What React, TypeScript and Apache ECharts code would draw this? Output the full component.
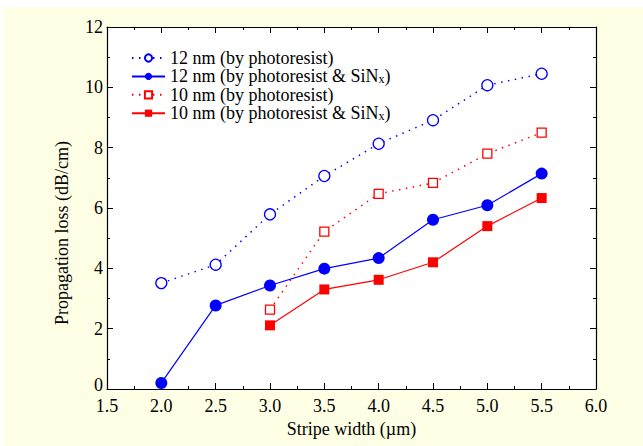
import React, { useEffect, useRef } from "react";
import * as echarts from "echarts";

const widths12 = [2.0, 2.5, 3.0, 3.5, 4.0, 4.5, 5.0, 5.5];
const loss12Photo = [3.51, 4.12, 5.79, 7.06, 8.13, 8.91, 10.07, 10.45];
const loss12PhotoSiN = [0.2, 2.77, 3.43, 3.99, 4.34, 5.61, 6.09, 7.14];
const widths10 = [3.0, 3.5, 4.0, 4.5, 5.0, 5.5];
const loss10Photo = [2.63, 5.22, 6.47, 6.83, 7.8, 8.5];
const loss10PhotoSiN = [2.11, 3.3, 3.62, 4.2, 5.4, 6.33];

const seriesNames = [
  "12 nm (by photoresist)",
  "12 nm (by photoresist & SiNx)",
  "10 nm (by photoresist)",
  "10 nm (by photoresist & SiNx)",
];

const xLabel = "Stripe width (\u00b5m)";
const yLabel = "Propagation loss (dB/cm)";

const FONT = "Liberation Serif";

function pairs(xs: number[], ys: number[]) {
  return xs.map((x, i) => [x, ys[i]]);
}

export default function App() {
  const ref = useRef<HTMLDivElement>(null);
  useEffect(() => {
    if (!ref.current) return;
    const chart = echarts.init(ref.current, undefined, { renderer: "svg" });
    const blue = "#0000FF";
    const red = "#FF0000";
    const dotted = [1.5, 5.5];
    const axisCommon = {
      type: "value" as const,
      axisLine: { show: true, onZero: false, lineStyle: { color: "#000", width: 1.2 } },
      axisTick: { show: true, inside: true, length: 6, lineStyle: { color: "#000", width: 1 } },
      minorTick: { show: true, splitNumber: 2, length: 3, lineStyle: { color: "#000", width: 1 } },
      splitLine: { show: false },
      minorSplitLine: { show: false },
    };
    chart.setOption({
      animation: false,
      backgroundColor: "transparent",
      grid: {
        left: 107,
        right: 47,
        top: 27,
        bottom: 57,
        show: true,
        backgroundColor: "#FFFFFF",
        borderWidth: 0,
      },
      legend: {
        left: 126,
        top: 44,
        orient: "vertical",
        itemWidth: 33,
        itemHeight: 9,
        itemGap: 0.4,
        data: seriesNames,
        textStyle: {
          fontFamily: FONT,
          fontSize: 18,
          lineHeight: 18,
          color: "#000",
          rich: {
            t: { fontFamily: FONT, fontSize: 18, lineHeight: 18, color: "#000" },
            s: { fontFamily: FONT, fontSize: 12, lineHeight: 18, color: "#000", verticalAlign: "bottom", padding: [6, 0, 0, 0] },
          },
        },
        formatter: (name: string) => {
          if (name.endsWith("SiNx)")) {
            return "{t|" + name.slice(0, -2) + "}{s|x}{t|)}";
          }
          return "{t|" + name + "}";
        },
      },
      xAxis: [
        {
          ...axisCommon,
          position: "bottom",
          min: 1.5,
          max: 6.0,
          interval: 0.5,
          axisLabel: {
            fontFamily: FONT,
            fontSize: 18,
            lineHeight: 14,
            color: "#000",
            margin: 10,
            formatter: (v: number) => v.toFixed(1),
          },
          name: xLabel,
          nameLocation: "middle",
          nameGap: 30,
          nameTextStyle: { fontFamily: FONT, fontSize: 18, color: "#000" },
        },
        {
          ...axisCommon,
          position: "top",
          min: 1.5,
          max: 6.0,
          interval: 0.5,
          axisLabel: { show: false },
        },
      ],
      yAxis: [
        {
          ...axisCommon,
          position: "left",
          min: 0,
          max: 12,
          interval: 2,
          axisLabel: {
            fontFamily: FONT,
            fontSize: 18,
            lineHeight: 14,
            color: "#000",
            margin: 4,
            formatter: (v: number) => (v === 0 ? "{z|0}" : String(v)),
            rich: {
              z: { fontFamily: FONT, fontSize: 18, lineHeight: 12, color: "#000", padding: [0, 0, 8, 0] },
            },
          },
        },
        {
          ...axisCommon,
          position: "right",
          min: 0,
          max: 12,
          interval: 2,
          axisLabel: { show: false },
        },
      ],
      graphic: [
        {
          type: "text",
          x: 62,
          y: 233,
          rotation: Math.PI / 2,
          style: {
            text: yLabel,
            fontFamily: FONT,
            fontSize: 18,
            fill: "#000",
            align: "center",
            verticalAlign: "middle",
          },
        },
      ],
      series: [
        {
          name: seriesNames[0],
          type: "line",
          data: pairs(widths12, loss12Photo),
          symbol: "circle",
          symbolSize: 11,
          itemStyle: { color: "#FFFFFF", borderColor: blue, borderWidth: 1.3 },
          lineStyle: { color: blue, width: 1.5, type: dotted },
          z: 3,
        },
        {
          name: seriesNames[1],
          type: "line",
          data: pairs(widths12, loss12PhotoSiN),
          symbol: "circle",
          symbolSize: 12,
          itemStyle: { color: blue, borderColor: blue, borderWidth: 0 },
          lineStyle: { color: blue, width: 1.2, type: "solid" },
          z: 4,
        },
        {
          name: seriesNames[2],
          type: "line",
          data: pairs(widths10, loss10Photo),
          symbol: "rect",
          symbolSize: 9,
          itemStyle: { color: "#FFFFFF", borderColor: red, borderWidth: 1.3 },
          lineStyle: { color: red, width: 1.5, type: dotted },
          z: 3,
        },
        {
          name: seriesNames[3],
          type: "line",
          data: pairs(widths10, loss10PhotoSiN),
          symbol: "rect",
          symbolSize: 10,
          itemStyle: { color: red, borderColor: red, borderWidth: 0 },
          lineStyle: { color: red, width: 1.2, type: "solid" },
          z: 4,
        },
      ],
    });
    return () => chart.dispose();
  }, []);

  return (
    <div style={{ position: "fixed", left: 0, top: 0, width: 643, height: 446, background: "#FFFFFF" }}>
      <div style={{ position: "absolute", left: 3, top: 7, width: 640, height: 439, background: "#FFFFE6" }} />
      <div ref={ref} style={{ position: "absolute", left: 0, top: 0, width: 643, height: 446 }} />
    </div>
  );
}
